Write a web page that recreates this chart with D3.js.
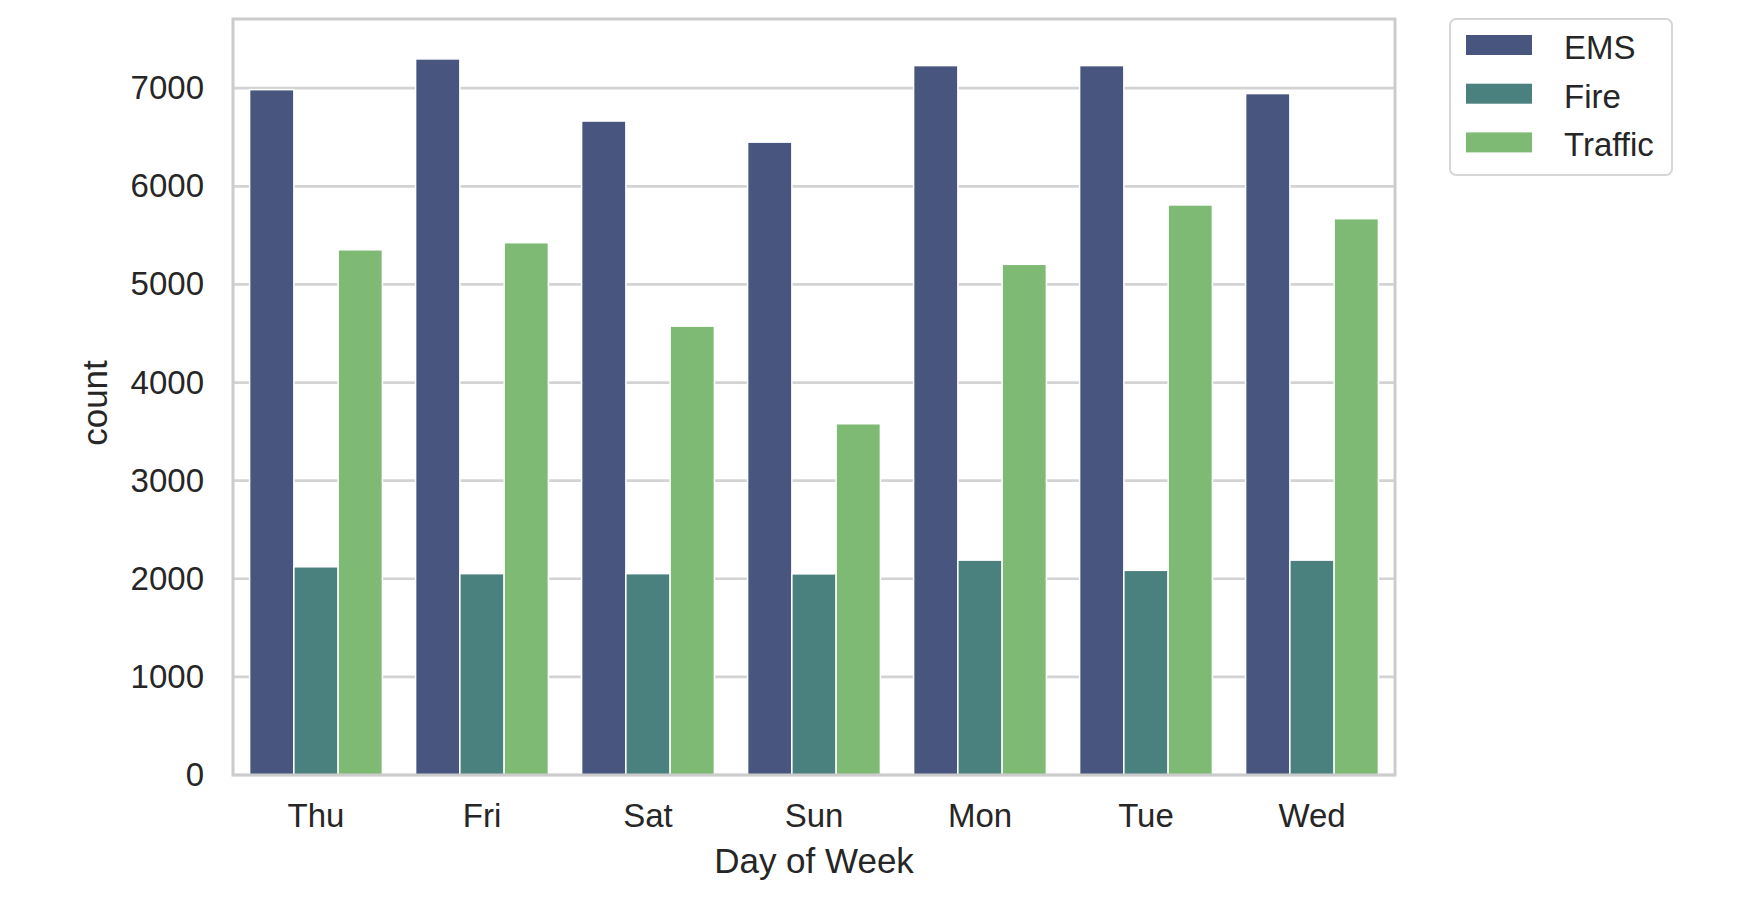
<!DOCTYPE html>
<html>
<head>
<meta charset="utf-8">
<script src="https://cdn.jsdelivr.net/npm/d3@7"></script>
<style>
  body { margin: 0; background: #fff; }
  text { font-family: "Liberation Sans", Arial, sans-serif; fill: #262626; }
</style>
</head>
<body>
<div id="chart"></div>
<script>
// chart values
var days = ["Thu", "Fri", "Sat", "Sun", "Mon", "Tue", "Wed"];
var reasons = ["EMS", "Fire", "Traffic"];
var emsCounts = [6985, 7298, 6665, 6450, 7230, 7230, 6945];
var fireCounts = [2122, 2052, 2052, 2050, 2190, 2086, 2190];
var trafficCounts = [5353, 5425, 4575, 3580, 5205, 5810, 5670];
var yTicks = [0, 1000, 2000, 3000, 4000, 5000, 6000, 7000];

var colors = ["#48567f", "#4a807d", "#7fba74"];

var svgWidth = 1756;
var svgHeight = 916;

var chartMargin = { top: 19, right: 361, bottom: 141, left: 233 };
var chartWidth = svgWidth - chartMargin.left - chartMargin.right;
var chartHeight = svgHeight - chartMargin.top - chartMargin.bottom;

var svg = d3.select("#chart")
  .append("svg")
  .attr("width", svgWidth)
  .attr("height", svgHeight);

var chartGroup = svg.append("g")
  .attr("transform", `translate(${chartMargin.left}, ${chartMargin.top})`);

// build rows from the arrays
var seriesValues = [emsCounts, fireCounts, trafficCounts];
var rows = [];
days.forEach(function(day, i) {
  reasons.forEach(function(reason, j) {
    rows.push({ day: day, reason: reason, count: seriesValues[j][i] });
  });
});

var xScale = d3.scaleBand()
  .domain(days)
  .range([0, chartWidth])
  .paddingInner(0.2)
  .paddingOuter(0.1);

var xSub = d3.scaleBand()
  .domain(reasons)
  .range([0, xScale.bandwidth()]);

var yScale = d3.scaleLinear()
  .domain([0, 7705])
  .range([chartHeight, 0]);

var colorScale = d3.scaleOrdinal().domain(reasons).range(colors);

// grid lines
chartGroup.append("g")
  .selectAll("line")
  .data(yTicks)
  .enter()
  .append("line")
  .attr("x1", 0)
  .attr("x2", chartWidth)
  .attr("y1", d => yScale(d))
  .attr("y2", d => yScale(d))
  .attr("stroke", "#d3d3d3")
  .attr("stroke-width", 2.7);

// bars
chartGroup.selectAll(".bar")
  .data(rows)
  .enter()
  .append("rect")
  .attr("class", "bar")
  .attr("x", d => xScale(d.day) + xSub(d.reason))
  .attr("y", d => yScale(d.count))
  .attr("width", xSub.bandwidth())
  .attr("height", d => chartHeight - yScale(d.count))
  .attr("fill", d => colorScale(d.reason))
  .attr("stroke", "#ffffff")
  .attr("stroke-width", 1.5);

// frame
chartGroup.append("rect")
  .attr("x", 0)
  .attr("y", 0)
  .attr("width", chartWidth)
  .attr("height", chartHeight)
  .attr("fill", "none")
  .attr("stroke", "#cccccc")
  .attr("stroke-width", 3);

// axes (text only, seaborn whitegrid has no tick marks)
var leftAxis = d3.axisLeft(yScale).tickValues(yTicks).tickSize(0).tickPadding(29).tickFormat(d3.format("d"));
var bottomAxis = d3.axisBottom(xScale).tickSize(0).tickPadding(29);

var yAxisG = chartGroup.append("g").call(leftAxis);
var xAxisG = chartGroup.append("g")
  .attr("transform", `translate(0, ${chartHeight})`)
  .call(bottomAxis);

[yAxisG, xAxisG].forEach(function(g) {
  g.select(".domain").remove();
  g.selectAll("text")
    .style("font-family", "'Liberation Sans', Arial, sans-serif")
    .style("font-size", "33px")
    .attr("fill", "#262626");
});
xAxisG.selectAll("text").attr("dy", "0.71em");

// axis labels
chartGroup.append("text")
  .attr("x", chartWidth / 2)
  .attr("y", chartHeight + 98)
  .attr("text-anchor", "middle")
  .style("font-size", "35px")
  .text("Day of Week");

chartGroup.append("text")
  .attr("transform", "rotate(-90)")
  .attr("x", -384)
  .attr("y", -126)
  .attr("text-anchor", "middle")
  .style("font-size", "35px")
  .text("count");

// legend
var legend = svg.append("g")
  .attr("transform", "translate(1450, 19)");

legend.append("rect")
  .attr("x", 0)
  .attr("y", 0)
  .attr("width", 222)
  .attr("height", 156)
  .attr("rx", 6)
  .attr("fill", "#ffffff")
  .attr("stroke", "#d6d6d6")
  .attr("stroke-width", 2);

var legendItems = legend.selectAll(".legendItem")
  .data(reasons)
  .enter()
  .append("g")
  .attr("class", "legendItem")
  .attr("transform", (d, i) => `translate(0, ${16 + i * 48.7})`);

legendItems.append("rect")
  .attr("x", 16)
  .attr("y", 0)
  .attr("width", 66)
  .attr("height", 20)
  .attr("fill", d => colorScale(d));

legendItems.append("text")
  .attr("x", 114)
  .attr("y", 24)
  .style("font-size", "33px")
  .text(d => d);
</script>
</body>
</html>
